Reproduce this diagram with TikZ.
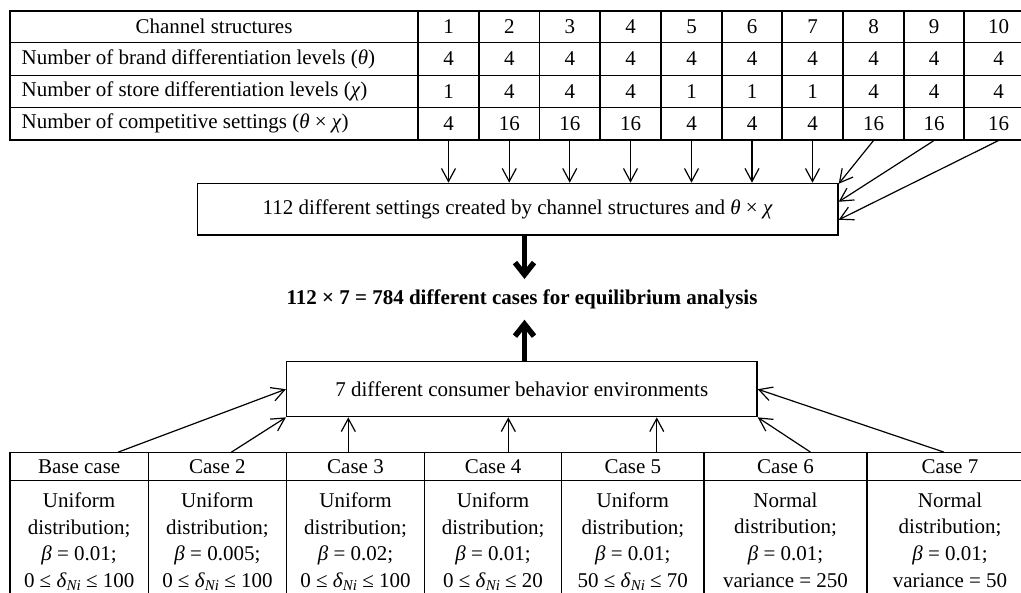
\documentclass[tikz,border=0pt]{standalone}
\usepackage{fontspec}
\setmainfont{Liberation Serif}
\usetikzlibrary{arrows.meta,calc}
\tikzset{
  cellst/.style={draw, line width=1.1pt, inner sep=0pt},
  boxst/.style={draw, line width=1.3pt, inner sep=0pt},
  thinarrow/.style={line width=1.2pt, -{Straight Barb[length=13pt,width=14pt]}},
  heavyarrow/.style={line width=5.5pt, -{Straight Barb[length=12pt,width=19pt]}},
  lbl/.style={inner sep=0pt, anchor=west},
  bodytxt/.style={align=center, anchor=north, inner sep=0pt},
}
\newcommand{\gr}[1]{\textit{#1}}
\newcommand{\dNi}{\textit{δ}\raisebox{-0.35ex}{\fontsize{15}{15}\selectfont\textit{Ni}}}
\newcommand{\mycell}[6]{\node[cellst, minimum width={#4-#2}, minimum height={#5-#3}] (#1) at ({(#2+#4)/2},{(#3+#5)/2}) {#6};}
\begin{document}
\begin{tikzpicture}[x=1pt,y=-1pt,font=\fontsize{21}{26.7}\selectfont]
\useasboundingbox (0,0) rectangle (1021,593);
\clip (0,0) rectangle (1021,593);

% ---- top table: label column
\mycell{L1}{10}{11}{418}{42.5}{}
\mycell{L2}{10}{42.5}{418}{75.5}{}
\mycell{L3}{10}{75.5}{418}{107.5}{}
\mycell{L4}{10}{107.5}{418}{140}{}
\node[inner sep=0pt] (t1) at (L1.center) {Channel structures};
\node[lbl] (t2) at (21.5,59) {Number of brand differentiation levels (\gr{θ})};
\node[lbl] (t3) at (21.5,91.5) {Number of store differentiation levels (\gr{χ})};
\node[lbl] (t4) at (21.5,123.75) {Number of competitive settings (\gr{θ} × \gr{χ})};

% ---- top table: number columns
\foreach \i/\xa/\xb/\vb/\vc/\vd in {
  1/418/479/4/1/4, 2/479/539.5/4/4/16, 3/539.5/600/4/4/16, 4/600/661/4/4/16,
  5/661/722/4/1/4, 6/722/782/4/1/4, 7/782/843/4/1/4, 8/843/904/4/4/16,
  9/904/964/4/4/16, 10/964/1033/4/4/16}{
  \mycell{a\i}{\xa}{11}{\xb}{42.5}{\i}
  \mycell{b\i}{\xa}{42.5}{\xb}{75.5}{\vb}
  \mycell{c\i}{\xa}{75.5}{\xb}{107.5}{\vc}
  \mycell{d\i}{\xa}{107.5}{\xb}{140}{\vd}
}

% ---- box 1
\node[boxst, minimum width=640.7, minimum height=51.7] (box1) at (517.7,209.2)
  {112 different settings created by channel structures and \gr{θ} × \gr{χ}};

\foreach \i in {1,...,7}{
  \draw[thinarrow] (d\i.south) -- (d\i.south |- box1.north);
}
\draw[thinarrow] (d8.south) -- ($(box1.north east)!0.02!(box1.south east)$);
\draw[thinarrow] (d9.south) -- ($(box1.north east)!0.36!(box1.south east)$);
\draw[thinarrow] (d10.south) -- ($(box1.north east)!0.70!(box1.south east)$);

% ---- result text
\node[font=\fontsize{21}{26.7}\selectfont\bfseries, anchor=base, inner xsep=0pt, inner ysep=10.5pt] (res) at (522,304.5)
  {112 × 7 = 784 different cases for equilibrium analysis};
\coordinate (hx) at (524.5,0);

% ---- box 2
\node[boxst, minimum width=470.5, minimum height=55] (box2) at (521.8,389.2)
  {7 different consumer behavior environments};

\draw[heavyarrow] (box1.south -| hx) -- (res.north -| hx);
\draw[heavyarrow] (box2.north -| hx) -- (res.south -| hx);

% ---- bottom table
\foreach \i/\xa/\xb/\hd in {1/10/148.3/Base case, 2/148.3/286.5/Case 2, 3/286.5/424.5/Case 3,
  4/424.5/561.7/Case 4, 5/561.7/704/Case 5, 6/704/867/Case 6, 7/867/1033/Case 7}{
  \mycell{h\i}{\xa}{452.7}{\xb}{480.7}{\hd}
  \mycell{g\i}{\xa}{480.7}{\xb}{625}{}
}
\node[bodytxt] (bt1) at (g1.north |- 0,492.5) {Uniform\\distribution;\\\gr{β} = 0.01;\\0 ≤ \dNi{} ≤ 100};
\node[bodytxt] (bt2) at (g2.north |- 0,492.5) {Uniform\\distribution;\\\gr{β} = 0.005;\\0 ≤ \dNi{} ≤ 100};
\node[bodytxt] (bt3) at (g3.north |- 0,492.5) {Uniform\\distribution;\\\gr{β} = 0.02;\\0 ≤ \dNi{} ≤ 100};
\node[bodytxt] (bt4) at (g4.north |- 0,492.5) {Uniform\\distribution;\\\gr{β} = 0.01;\\0 ≤ \dNi{} ≤ 20};
\node[bodytxt] (bt5) at (g5.north |- 0,492.5) {Uniform\\distribution;\\\gr{β} = 0.01;\\50 ≤ \dNi{} ≤ 70};
\node[bodytxt] (bt6) at (g6.north |- 0,492.5) {Normal\\distribution;\\\gr{β} = 0.01;\\variance = 250};
\node[bodytxt] (bt7) at (g7.north |- 0,492.5) {Normal\\distribution;\\\gr{β} = 0.01;\\variance = 50};

% ---- arrows from bottom table to box 2
\coordinate (s1) at ([xshift=39pt]h1.north);
\coordinate (s2) at ([xshift=14pt]h2.north);
\coordinate (s3) at ([xshift=-7.2pt]h3.north);
\coordinate (s4) at ([xshift=15.2pt]h4.north);
\coordinate (s5) at ([xshift=23.9pt]h5.north);
\coordinate (s6) at ([xshift=25pt]h6.north);
\coordinate (s7) at ([xshift=-6pt]h7.north);
\draw[thinarrow] (s1) -- (box2.west);
\draw[thinarrow] (s2) -- (box2.south west);
\draw[thinarrow] (s3) -- (s3 |- box2.south);
\draw[thinarrow] (s4) -- (s4 |- box2.south);
\draw[thinarrow] (s5) -- (s5 |- box2.south);
\draw[thinarrow] (s6) -- (box2.south east);
\draw[thinarrow] (s7) -- (box2.east);
\end{tikzpicture}
\end{document}
